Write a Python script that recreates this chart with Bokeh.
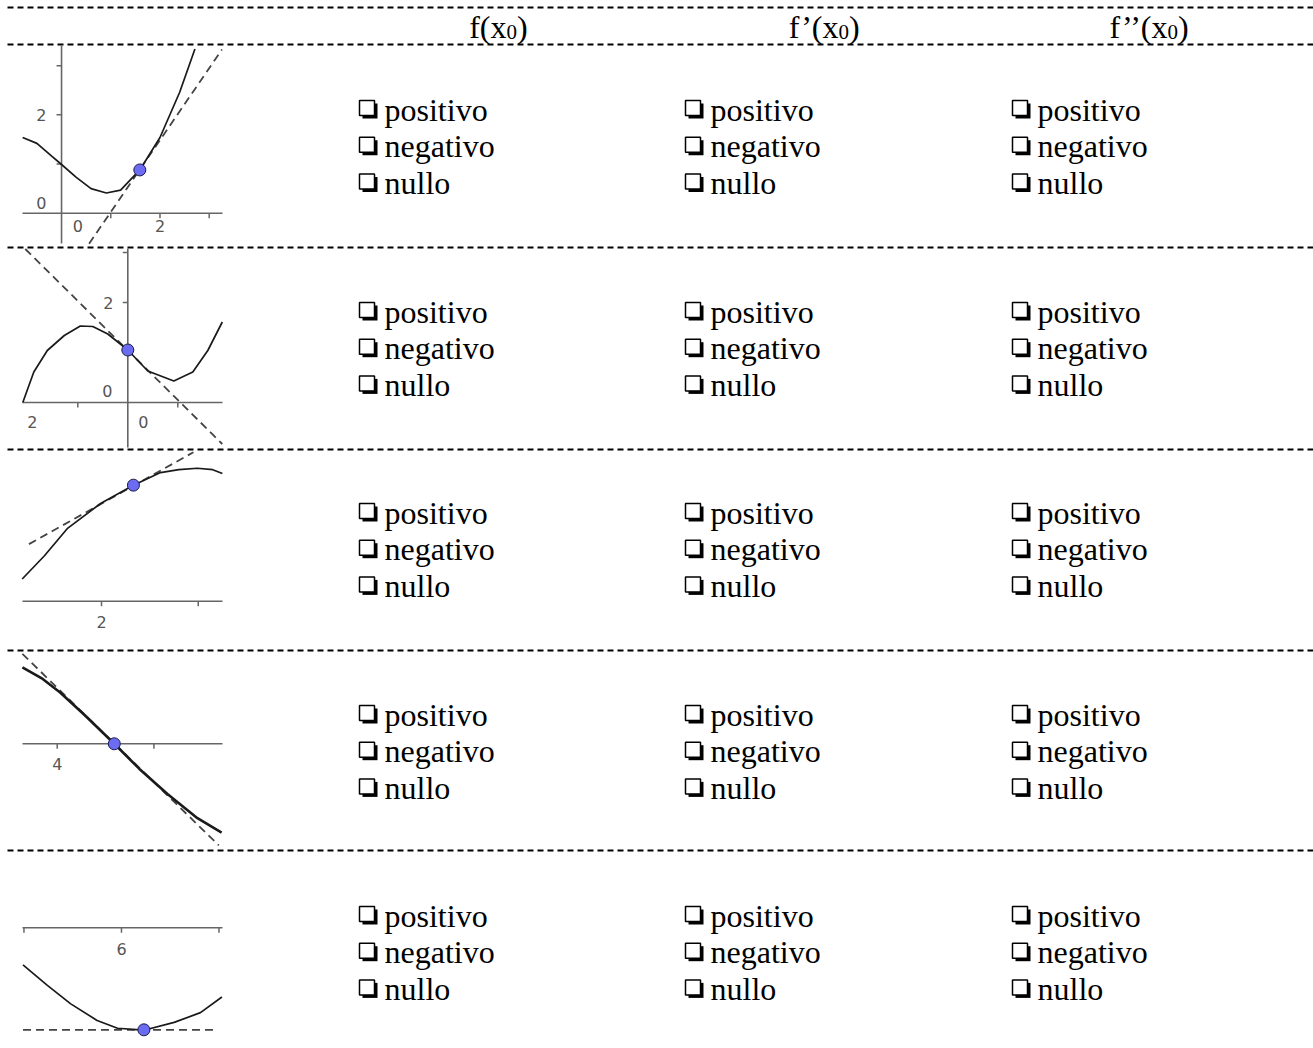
from bokeh.plotting import figure
from bokeh.models import Range1d
from bokeh.core.properties import value
from bokeh.embed import file_html
from bokeh.resources import INLINE

# ---------------- data ----------------
HEADER_MAIN = ["f(x", "f\u2019(x", "f\u2019\u2019(x"]
HEADER_SUB = ["0", "0", "0"]
HEADER_CLOSE = [")", ")", ")"]
OPTIONS = ["positivo", "negativo", "nullo"]

# small graphs (math coordinates of each graph)
P1_X = [-0.79, -0.5, -0.2, 0.0, 0.3, 0.6, 0.91, 1.2, 1.59, 2.0, 2.4, 2.71]
P1_Y = [1.54, 1.42, 1.16, 0.99, 0.73, 0.5, 0.41, 0.47, 0.88, 1.54, 2.46, 3.34]
P2_X = [-2.1, -1.88, -1.61, -1.27, -0.95, -0.7, -0.4, 0.0, 0.4, 0.92, 1.3, 1.6, 1.89]
P2_Y = [0.0, 0.61, 1.04, 1.34, 1.53, 1.52, 1.37, 1.05, 0.63, 0.43, 0.61, 1.04, 1.61]
P3_X = [1.18, 1.41, 1.645, 1.99, 2.33, 2.61, 2.8, 2.99, 3.15, 3.25]
P3_Y = [0.23, 0.47, 0.75, 1.01, 1.20, 1.33, 1.36, 1.375, 1.36, 1.32]
P4_X = [3.64, 3.85, 4.03, 4.28, 4.59, 4.85, 5.14, 5.45, 5.70]
P4_Y = [0.79, 0.67, 0.53, 0.30, 0.0, -0.26, -0.52, -0.77, -0.92]
P5_X = [4.99, 5.24, 5.48, 5.75, 5.96, 6.23, 6.54, 6.81, 7.03]
P5_Y = [-0.38, -0.59, -0.78, -0.95, -1.03, -1.05, -0.97, -0.87, -0.71]

TAN1_X, TAN1_Y = [0.56, 3.26], [-0.62, 3.33]
TAN2_X, TAN2_Y = [-2.05, 1.89], [3.07, -0.83]
TAN3_X, TAN3_Y = [1.25, 2.95], [0.59, 1.54]
TAN4_X, TAN4_Y = [3.64, 5.67], [0.93, -1.05]
TAN5_X, TAN5_Y = [4.99, 6.98], [-1.046, -1.046]

POINT_X = [1.59, 0.0, 2.33, 4.59, 6.23]
POINT_Y = [0.88, 1.05, 1.20, 0.0, -1.046]

# visible window of each graph (math coords)
WIN_X = [(-0.793, 3.27), (-2.106, 1.894), (1.183, 3.251), (3.641, 5.709), (4.985, 7.036)]
WIN_Y = [(-0.616, 3.41), (-0.9, 3.08), (-0.489, 1.548), (-1.083, 0.944), (-1.217, 0.762)]
HAS_YAXIS = [True, True, False, False, False]
XTICKS = [[1, 2, 3], [-1, 1], [2, 3], [4, 5], [5, 6, 7]]
YTICKS = [[1, 2, 3], [1, 2, 3], [], [], []]
TL1_X, TL1_Y, TL1_T = [-0.41, -0.41, 0.33, 2.0], [2.0, 0.2, -0.25, -0.25], ["2", "0", "0", "2"]
TL2_X, TL2_Y, TL2_T = [-0.39, -0.41, 0.31, -1.91], [2.0, 0.24, -0.39, -0.39], ["2", "0", "0", "2"]
TL3_X, TL3_Y, TL3_T = [2.0], [-0.216], ["2"]
TL4_X, TL4_Y, TL4_T = [4.0], [-0.207], ["4"]
TL5_X, TL5_Y, TL5_T = [6.0], [-0.215], ["6"]

# ---------------- layout (page pixels) ----------------
W, H = 1313, 1048
FRAME_L, FRAME_R, FRAME_T, FRAME_B = 0, W, 0, H
RULE_Y = [7, 44, 247, 449, 650, 850]
HEADER_ANCHOR = [506, 838, 1167]
HEADER_BASE = 26
COL_X = [384, 710, 1037]
ROW_BASE = [109, 311, 512, 714, 915]
LINE_STEP = 36.7
BOX_X = (22, 222)
BOX_Y = [(45, 243), (248, 447), (451, 648), (652, 848), (853, 1046)]
CURVE_W = [1.7, 1.7, 1.7, 2.6, 1.7]

SERIF = value("Liberation Serif")
SANS = value("DejaVu Sans")

p = figure(width=W, height=H, x_range=Range1d(FRAME_L, FRAME_R),
           y_range=Range1d(FRAME_B, FRAME_T), output_backend="svg",
           toolbar_location=None, min_border=0, x_axis_location=None,
           y_axis_location=None, outline_line_color=None,
           background_fill_color="white", border_fill_color="white")
p.grid.visible = False

# dotted rules
p.segment(x0=[7] * len(RULE_Y), y0=RULE_Y, x1=[W] * len(RULE_Y), y1=RULE_Y,
          line_color="black", line_width=2, line_dash="6 4")

# headers
p.text(x=HEADER_ANCHOR, y=[HEADER_BASE] * 3, text=HEADER_MAIN, text_align="right",
       text_baseline="alphabetic", text_font=SERIF, text_font_size="32px", text_color="black")
p.text(x=HEADER_ANCHOR, y=[HEADER_BASE + 5] * 3, text=HEADER_SUB, text_align="left",
       text_baseline="alphabetic", text_font=SERIF, text_font_size="21px", text_color="black")
p.text(x=[a + 10.5 for a in HEADER_ANCHOR], y=[HEADER_BASE] * 3, text=HEADER_CLOSE,
       text_align="left", text_baseline="alphabetic", text_font=SERIF,
       text_font_size="32px", text_color="black")

# checkbox options
tx, ty, tt = [], [], []
for base in ROW_BASE:
    for k, opt in enumerate(OPTIONS):
        for cx in COL_X:
            tx.append(cx)
            ty.append(base + k * LINE_STEP)
            tt.append(opt)
p.rect(x=[x - 14.5 for x in tx], y=[y + 1.5 for y in ty], width=15, height=15,
       width_units="screen", height_units="screen", fill_color="black", line_color=None)
p.rect(x=[x - 17.5 for x in tx], y=[y - 1.5 for y in ty], width=15, height=15,
       width_units="screen", height_units="screen", fill_color="white",
       line_color="black", line_width=1.5)
p.text(x=tx, y=ty, text=tt, text_align="left", text_baseline="alphabetic",
       text_font=SERIF, text_font_size="32px", text_color="black")

# small graphs
CURVES = [(P1_X, P1_Y), (P2_X, P2_Y), (P3_X, P3_Y), (P4_X, P4_Y), (P5_X, P5_Y)]
TANGENTS = [(TAN1_X, TAN1_Y), (TAN2_X, TAN2_Y), (TAN3_X, TAN3_Y), (TAN4_X, TAN4_Y), (TAN5_X, TAN5_Y)]
TLABELS = [(TL1_X, TL1_Y, TL1_T), (TL2_X, TL2_Y, TL2_T), (TL3_X, TL3_Y, TL3_T),
           (TL4_X, TL4_Y, TL4_T), (TL5_X, TL5_Y, TL5_T)]

for i in range(5):
    (xa, xb), (ya, yb) = WIN_X[i], WIN_Y[i]
    (bl, br), (bt, bb) = BOX_X, BOX_Y[i]
    sx = (br - bl) / (xb - xa)
    sy = (bb - bt) / (yb - ya)
    name = "g%d" % i
    p.extra_x_ranges[name] = Range1d(xa - (bl - FRAME_L) / sx, xb + (FRAME_R - br) / sx)
    p.extra_y_ranges[name] = Range1d(ya - (FRAME_B - bb) / sy, yb + (bt - FRAME_T) / sy)
    kw = dict(x_range_name=name, y_range_name=name)

    # axes
    p.segment(x0=[xa], y0=[0], x1=[xb], y1=[0], line_color="#666666", line_width=1.6, **kw)
    if HAS_YAXIS[i]:
        p.segment(x0=[0], y0=[ya], x1=[0], y1=[yb], line_color="#666666", line_width=1.6, **kw)
    xt = XTICKS[i]
    p.segment(x0=xt, y0=[0] * len(xt), x1=xt, y1=[-5 / sy] * len(xt),
              line_color="#666666", line_width=1.5, **kw)
    yt = YTICKS[i]
    if yt:
        p.segment(x0=[0] * len(yt), y0=yt, x1=[-5 / sx] * len(yt), y1=yt,
                  line_color="#666666", line_width=1.5, **kw)
    lx, ly, lt = TLABELS[i]
    p.text(x=lx, y=ly, text=lt, text_align="center", text_baseline="middle",
           text_font=SANS, text_font_size="16px", text_color="#555555", **kw)

    # tangent and curve
    txs, tys = TANGENTS[i]
    p.line(txs, tys, line_color="#444444", line_width=1.8, line_dash="8 5", **kw)
    cx, cy = CURVES[i]
    p.line(cx, cy, line_color="#1a1a1a", line_width=CURVE_W[i], **kw)
    p.scatter(x=[POINT_X[i]], y=[POINT_Y[i]], size=12, fill_color="#6c6cf2",
              line_color="#1c1c50", line_width=1, **kw)

open("out.html", "w").write(file_html(p, INLINE))
